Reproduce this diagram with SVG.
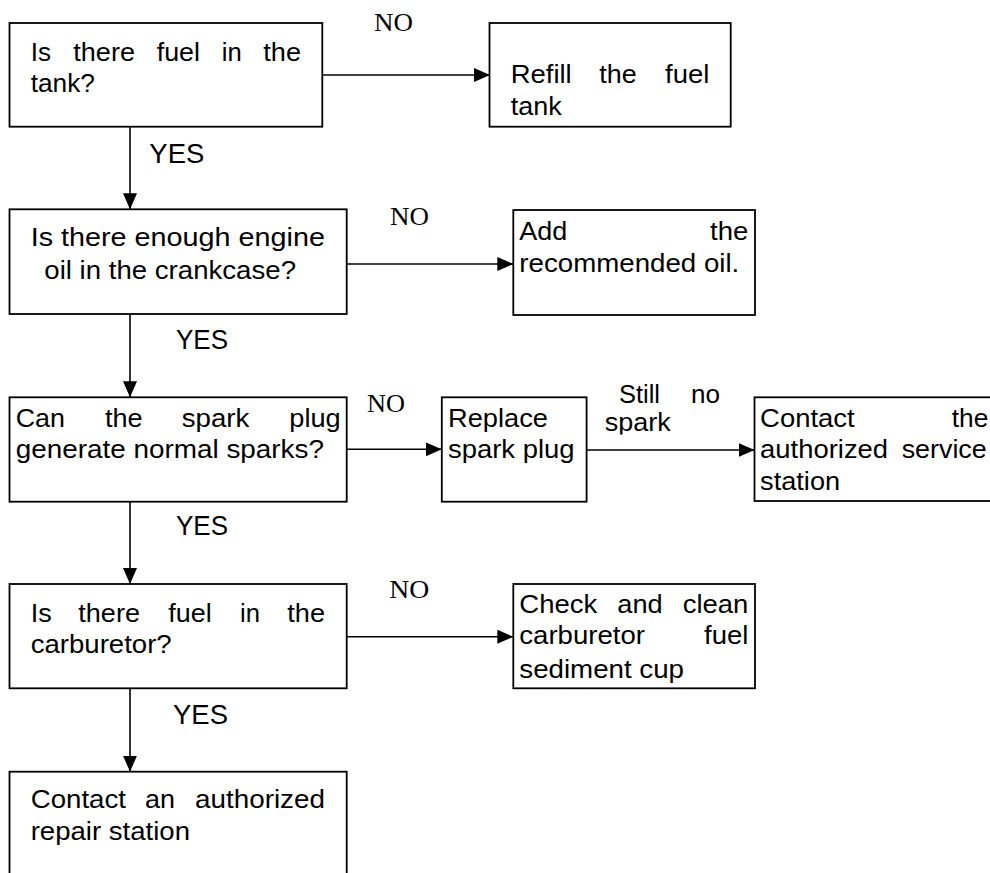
<svg xmlns="http://www.w3.org/2000/svg" width="990" height="873" viewBox="0 0 990 873">
<style>
.box{fill:#fff;stroke:#000;stroke-width:1.8}
.t{font-family:"Liberation Sans",Arial,sans-serif;font-size:26px;fill:#000}
.lab{font-family:"Liberation Sans",Arial,sans-serif;font-size:27px;fill:#000}
.no{font-family:"Liberation Serif","Times New Roman",serif;font-size:26px;fill:#000}
.c{stroke:#000;stroke-width:1.6;fill:none;marker-end:url(#ah)}
</style>
<defs>
<marker id="ah" markerUnits="userSpaceOnUse" markerWidth="16" markerHeight="14" refX="16" refY="7" orient="auto">
<path d="M0,0 L16,7 L0,14 Z" fill="#000"/>
</marker>
<clipPath id="clipSpark"><rect x="590" y="380" width="100" height="54.5"/></clipPath>
</defs>
<rect width="990" height="873" fill="#fff"/>
<g id="connectors">
<line class="c" x1="322.3" y1="75" x2="490" y2="75"/>
<line class="c" x1="130" y1="126.7" x2="130" y2="209.3"/>
<line class="c" x1="346.7" y1="264" x2="513.3" y2="264"/>
<line class="c" x1="130" y1="314" x2="130" y2="397.3"/>
<line class="c" x1="346.7" y1="449.3" x2="441.8" y2="449.3"/>
<line class="c" x1="586.6" y1="450" x2="754.5" y2="450"/>
<line class="c" x1="130" y1="501.7" x2="130" y2="584"/>
<line class="c" x1="346.7" y1="636.7" x2="513.3" y2="636.7"/>
<line class="c" x1="130" y1="688.3" x2="130" y2="771.7"/>
</g>
<g id="labels">
<text class="no" x="374" y="30.7" textLength="39" lengthAdjust="spacingAndGlyphs">NO</text>
<text class="no" x="390" y="225" textLength="39" lengthAdjust="spacingAndGlyphs">NO</text>
<text class="no" x="367" y="411.7" textLength="38" lengthAdjust="spacingAndGlyphs">NO</text>
<text class="no" x="389.3" y="598.3" textLength="40" lengthAdjust="spacingAndGlyphs">NO</text>
<text class="lab" x="149.3" y="162.7" textLength="55" lengthAdjust="spacingAndGlyphs">YES</text>
<text class="lab" x="176" y="349" textLength="52" lengthAdjust="spacingAndGlyphs">YES</text>
<text class="lab" x="176" y="535" textLength="52" lengthAdjust="spacingAndGlyphs">YES</text>
<text class="lab" x="173" y="724" textLength="55" lengthAdjust="spacingAndGlyphs">YES</text>
<text class="t" x="619" y="403" textLength="41" lengthAdjust="spacingAndGlyphs">Still</text>
<text class="t" x="691" y="403" textLength="29" lengthAdjust="spacingAndGlyphs">no</text>
<text class="t" x="604.8" y="431" textLength="66" lengthAdjust="spacingAndGlyphs" clip-path="url(#clipSpark)">spark</text>
</g>
<g id="n1">
<rect class="box" x="9.5" y="23" width="312.8" height="103.7"/>
<text class="t" y="61"><tspan x="30.7" textLength="20.3" lengthAdjust="spacingAndGlyphs">Is</tspan></text>
<text class="t" x="73.3" y="61" textLength="61.7" lengthAdjust="spacingAndGlyphs">there</text>
<text class="t" x="156.7" y="61" textLength="43.3" lengthAdjust="spacingAndGlyphs">fuel</text>
<text class="t" x="221.7" y="61" textLength="20" lengthAdjust="spacingAndGlyphs">in</text>
<text class="t" x="263.3" y="61" textLength="37.7" lengthAdjust="spacingAndGlyphs">the</text>
<text class="t" x="30.7" y="92" textLength="64.3" lengthAdjust="spacingAndGlyphs">tank?</text>
</g>
<g id="n2">
<rect class="box" x="489.5" y="23" width="241.2" height="103.7"/>
<text class="t" x="510.7" y="82.7" textLength="61" lengthAdjust="spacingAndGlyphs">Refill</text>
<text class="t" x="599.3" y="82.7" textLength="37.4" lengthAdjust="spacingAndGlyphs">the</text>
<text class="t" x="665" y="82.7" textLength="44.3" lengthAdjust="spacingAndGlyphs">fuel</text>
<text class="t" x="510.7" y="115" textLength="51" lengthAdjust="spacingAndGlyphs">tank</text>
</g>
<g id="n3">
<rect class="box" x="9.5" y="209.3" width="337.2" height="104.7"/>
<text class="t" x="30.7" y="246" textLength="294.3" lengthAdjust="spacingAndGlyphs">Is there enough engine</text>
<text class="t" x="44.3" y="279.3" textLength="251.7" lengthAdjust="spacingAndGlyphs">oil in the crankcase?</text>
</g>
<g id="n4">
<rect class="box" x="513.3" y="210" width="241.7" height="105"/>
<text class="t" x="519.3" y="240" textLength="48" lengthAdjust="spacingAndGlyphs">Add</text>
<text class="t" x="710" y="240" textLength="38.3" lengthAdjust="spacingAndGlyphs">the</text>
<text class="t" x="519.3" y="271.7" textLength="220" lengthAdjust="spacingAndGlyphs">recommended oil.</text>
</g>
<g id="n5">
<rect class="box" x="9.5" y="397.3" width="337.2" height="104.4"/>
<text class="t" x="15.7" y="427.3" textLength="49.3" lengthAdjust="spacingAndGlyphs">Can</text>
<text class="t" x="105" y="427.3" textLength="37.7" lengthAdjust="spacingAndGlyphs">the</text>
<text class="t" x="181.7" y="427.3" textLength="67.6" lengthAdjust="spacingAndGlyphs">spark</text>
<text class="t" x="289.3" y="427.3" textLength="51.4" lengthAdjust="spacingAndGlyphs">plug</text>
<text class="t" x="15.7" y="458.3" textLength="308.3" lengthAdjust="spacingAndGlyphs">generate normal sparks?</text>
</g>
<g id="n6">
<rect class="box" x="441.8" y="397.3" width="144.8" height="104.4"/>
<text class="t" x="448" y="427" textLength="100" lengthAdjust="spacingAndGlyphs">Replace</text>
<text class="t" x="448" y="458.3" textLength="126.6" lengthAdjust="spacingAndGlyphs">spark plug</text>
</g>
<g id="n7">
<rect class="box" x="754.5" y="397.3" width="245" height="103.7"/>
<text class="t" x="760.1" y="427" textLength="94.6" lengthAdjust="spacingAndGlyphs">Contact</text>
<text class="t" x="951.7" y="427" textLength="36.6" lengthAdjust="spacingAndGlyphs">the</text>
<text class="t" x="760.1" y="458.3" textLength="128" lengthAdjust="spacingAndGlyphs">authorized</text>
<text class="t" x="901.7" y="458.3" textLength="85" lengthAdjust="spacingAndGlyphs">service</text>
<text class="t" x="760.1" y="490" textLength="80" lengthAdjust="spacingAndGlyphs">station</text>
</g>
<g id="n8">
<rect class="box" x="9.5" y="584" width="337.2" height="104.3"/>
<text class="t" x="30.7" y="621.7" textLength="21" lengthAdjust="spacingAndGlyphs">Is</text>
<text class="t" x="78.3" y="621.7" textLength="61.7" lengthAdjust="spacingAndGlyphs">there</text>
<text class="t" x="168.3" y="621.7" textLength="43.4" lengthAdjust="spacingAndGlyphs">fuel</text>
<text class="t" x="240" y="621.7" textLength="20" lengthAdjust="spacingAndGlyphs">in</text>
<text class="t" x="287.3" y="621.7" textLength="37.7" lengthAdjust="spacingAndGlyphs">the</text>
<text class="t" x="30.7" y="653.3" textLength="141" lengthAdjust="spacingAndGlyphs">carburetor?</text>
</g>
<g id="n9">
<rect class="box" x="513.3" y="584" width="241.7" height="104.3"/>
<text class="t" x="519.3" y="613.3" textLength="78" lengthAdjust="spacingAndGlyphs">Check</text>
<text class="t" x="617.3" y="613.3" textLength="45.4" lengthAdjust="spacingAndGlyphs">and</text>
<text class="t" x="682.7" y="613.3" textLength="65.6" lengthAdjust="spacingAndGlyphs">clean</text>
<text class="t" x="519.3" y="644.3" textLength="125.7" lengthAdjust="spacingAndGlyphs">carburetor</text>
<text class="t" x="704" y="644.3" textLength="44.3" lengthAdjust="spacingAndGlyphs">fuel</text>
<text class="t" x="519.3" y="678.3" textLength="164.7" lengthAdjust="spacingAndGlyphs">sediment cup</text>
</g>
<g id="n10">
<rect class="box" x="9.5" y="771.7" width="337.2" height="120"/>
<text class="t" x="30.7" y="808.3" textLength="95.3" lengthAdjust="spacingAndGlyphs">Contact</text>
<text class="t" x="145" y="808.3" textLength="30" lengthAdjust="spacingAndGlyphs">an</text>
<text class="t" x="195" y="808.3" textLength="130" lengthAdjust="spacingAndGlyphs">authorized</text>
<text class="t" x="30.7" y="840" textLength="159.3" lengthAdjust="spacingAndGlyphs">repair station</text>
</g>
</svg>
